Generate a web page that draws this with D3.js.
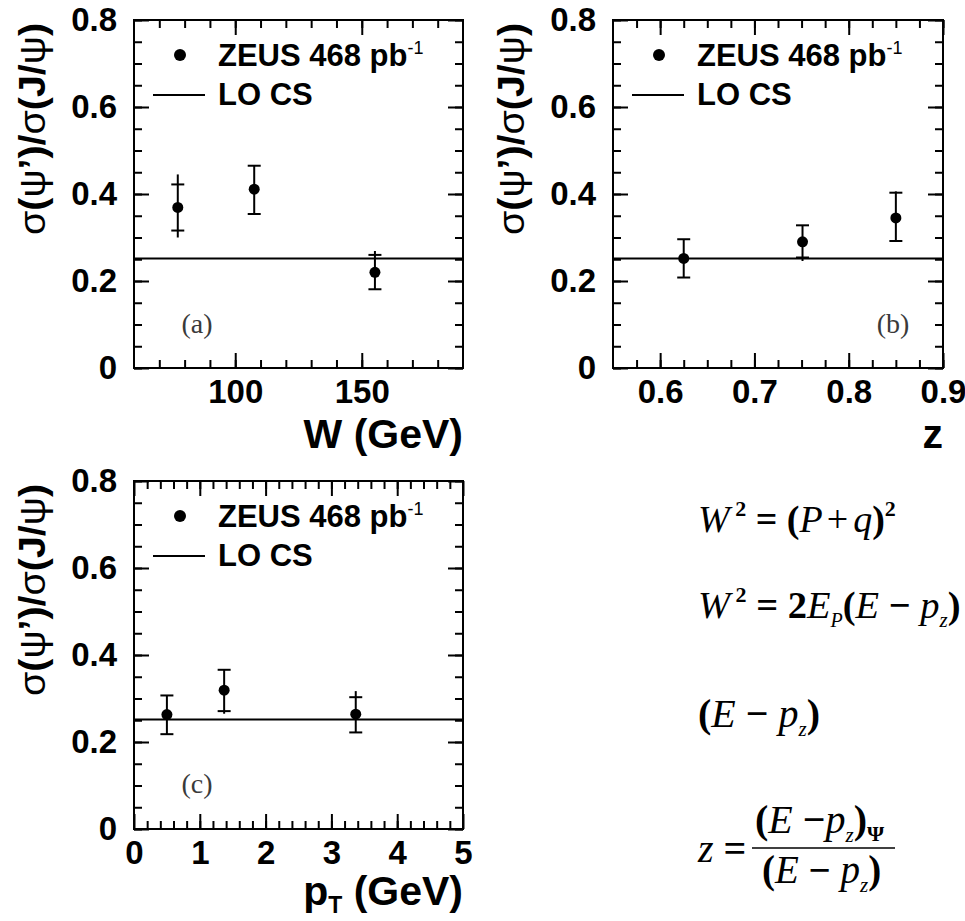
<!DOCTYPE html>
<html>
<head>
<meta charset="utf-8">
<script src="https://cdn.jsdelivr.net/npm/d3@7"></script>
<style>
  body { margin: 0; background: #fff; }
  text { fill: #000; }
</style>
</head>
<body>
<svg id="chart" width="965" height="921"></svg>
<script>
// ---- Data: ratio sigma(psi')/sigma(J/psi), ZEUS 468 pb^-1 ----
// (a) versus W (GeV)
const wBins    = [77.3, 107.5, 155.2];
const wRatio   = [0.369, 0.411, 0.220];
const wStatUp  = [0.422, 0.465, 0.260];
const wStatDn  = [0.316, 0.354, 0.181];
const wTotUp   = [0.445, 0.465, 0.269];
const wTotDn   = [0.300, 0.354, 0.181];

// (b) versus z
const zBins    = [0.625, 0.751, 0.850];
const zRatio   = [0.252, 0.290, 0.345];
const zStatUp  = [0.296, 0.328, 0.403];
const zStatDn  = [0.208, 0.254, 0.292];
const zTotUp   = [0.296, 0.328, 0.406];
const zTotDn   = [0.208, 0.246, 0.292];

// (c) versus pT (GeV)
const ptBins   = [0.50, 1.37, 3.37];
const ptRatio  = [0.263, 0.319, 0.264];
const ptStatUp = [0.307, 0.366, 0.303];
const ptStatDn = [0.218, 0.271, 0.222];
const ptTotUp  = [0.307, 0.366, 0.317];
const ptTotDn  = [0.218, 0.265, 0.222];

// Leading-order colour-singlet prediction (flat)
const loCS = 0.252;

// Axis ticks
const yMajor = [0, 0.2, 0.4, 0.6, 0.8];
const yMinor = d3.range(0, 0.8001, 0.05);
const yTickLabels = ["0", "0.2", "0.4", "0.6", "0.8"];
const wMajor = [100, 150];
const wMinor = d3.range(70, 190, 10);
const zMajor = [0.6, 0.7, 0.8, 0.9];
const zMinor = d3.range(0.575, 0.9, 0.025);
const ptMajor = [0, 1, 2, 3, 4, 5];
const ptMinor = d3.range(0.2, 5, 0.2);

const legendData = "ZEUS 468 pb";
const legendTheory = "LO CS";

const svg = d3.select("#chart");
const sans = "'Liberation Sans', Arial, Helvetica, sans-serif";
const serif = "'Liberation Serif', 'Times New Roman', serif";

function rows(x, v, su, sd, tu, td) {
  return x.map((d, i) => ({ x: d, v: v[i], su: su[i], sd: sd[i], tu: tu[i], td: td[i] }));
}

const panels = [
  { box: [134, 463, 20, 368], xDomain: [60, 190], xMajor: wMajor, xMinor: wMinor,
    xFmt: d => String(d), title: "W (GeV)", tag: "(a)", tagPos: [197, 323],
    data: rows(wBins, wRatio, wStatUp, wStatDn, wTotUp, wTotDn) },
  { box: [613, 943, 20, 368], xDomain: [0.55, 0.9], xMajor: zMajor, xMinor: zMinor,
    xFmt: d3.format(".1f"), title: "z", tag: "(b)", tagPos: [893, 323],
    data: rows(zBins, zRatio, zStatUp, zStatDn, zTotUp, zTotDn) },
  { box: [134, 463, 481, 829], xDomain: [0, 5], xMajor: ptMajor, xMinor: ptMinor,
    xFmt: d => String(d), title: "pT", tag: "(c)", tagPos: [197, 783],
    data: rows(ptBins, ptRatio, ptStatUp, ptStatDn, ptTotUp, ptTotDn) }
];

function styleAxis(g, labelled) {
  g.select(".domain").remove();
  g.selectAll(".tick line").attr("stroke", "#000").attr("stroke-width", 2);
  if (labelled) {
    g.selectAll(".tick text")
      .attr("fill", "#000")
      .style("font-family", sans)
      .style("font-weight", "bold")
      .style("font-size", "33px");
  }
}

function drawPanel(p) {
  const [x0, x1, y0, y1] = p.box;
  const x = d3.scaleLinear().domain(p.xDomain).range([x0, x1]);
  const y = d3.scaleLinear().domain([0, 0.8]).range([y1, y0]);
  const g = svg.append("g");

  // minor ticks on all four sides
  g.append("g").attr("transform", `translate(0,${y1})`)
    .call(d3.axisBottom(x).tickValues(p.xMinor).tickSize(-8).tickFormat("")).call(a => styleAxis(a, false));
  g.append("g").attr("transform", `translate(0,${y0})`)
    .call(d3.axisTop(x).tickValues(p.xMinor).tickSize(-8).tickFormat("")).call(a => styleAxis(a, false));
  g.append("g").attr("transform", `translate(${x0},0)`)
    .call(d3.axisLeft(y).tickValues(yMinor).tickSize(-8).tickFormat("")).call(a => styleAxis(a, false));
  g.append("g").attr("transform", `translate(${x1},0)`)
    .call(d3.axisRight(y).tickValues(yMinor).tickSize(-8).tickFormat("")).call(a => styleAxis(a, false));

  // major ticks with labels
  g.append("g").attr("transform", `translate(0,${y1})`)
    .call(d3.axisBottom(x).tickValues(p.xMajor).tickSize(-15).tickPadding(12).tickFormat(p.xFmt))
    .call(a => styleAxis(a, true));
  g.append("g").attr("transform", `translate(0,${y0})`)
    .call(d3.axisTop(x).tickValues(p.xMajor).tickSize(-15).tickFormat("")).call(a => styleAxis(a, false));
  g.append("g").attr("transform", `translate(${x0},0)`)
    .call(d3.axisLeft(y).tickValues(yMajor).tickSize(-15).tickPadding(17).tickFormat((d, i) => yTickLabels[i]))
    .call(a => styleAxis(a, true));
  g.append("g").attr("transform", `translate(${x1},0)`)
    .call(d3.axisRight(y).tickValues(yMajor).tickSize(-15).tickFormat("")).call(a => styleAxis(a, false));

  // frame
  g.append("rect").attr("x", x0).attr("y", y0).attr("width", x1 - x0).attr("height", y1 - y0)
    .attr("fill", "none").attr("stroke", "#000").attr("stroke-width", 2);

  // LO CS prediction
  g.append("line").attr("x1", x0).attr("x2", x1).attr("y1", y(loCS)).attr("y2", y(loCS))
    .attr("stroke", "#000").attr("stroke-width", 2);

  // data points with stat (capped) and total errors
  const pts = g.selectAll(".pt").data(p.data).enter().append("g");
  pts.append("line").attr("x1", d => x(d.x)).attr("x2", d => x(d.x))
    .attr("y1", d => y(d.tu)).attr("y2", d => y(d.td))
    .attr("stroke", "#000").attr("stroke-width", 2);
  ["su", "sd"].forEach(k => {
    pts.append("line").attr("x1", d => x(d.x) - 6.5).attr("x2", d => x(d.x) + 6.5)
      .attr("y1", d => y(d[k])).attr("y2", d => y(d[k]))
      .attr("stroke", "#000").attr("stroke-width", 2);
  });
  pts.append("circle").attr("cx", d => x(d.x)).attr("cy", d => y(d.v)).attr("r", 5.5).attr("fill", "#000");

  // legend
  const lg = g.append("g").style("font-family", sans).style("font-weight", "bold");
  lg.append("circle").attr("cx", x0 + 46).attr("cy", y0 + 35).attr("r", 6).attr("fill", "#000");
  const t1 = lg.append("text").attr("x", x0 + 84).attr("y", y0 + 46).style("font-size", "31px");
  t1.append("tspan").text(legendData);
  t1.append("tspan").attr("dy", -12).style("font-size", "18px").style("font-weight", "normal").text("-1");
  lg.append("line").attr("x1", x0 + 19).attr("x2", x0 + 71).attr("y1", y0 + 75).attr("y2", y0 + 75)
    .attr("stroke", "#000").attr("stroke-width", 2);
  lg.append("text").attr("x", x0 + 84).attr("y", y0 + 85).style("font-size", "31px").text(legendTheory);

  // panel tag
  g.append("text").attr("x", p.tagPos[0]).attr("y", p.tagPos[1]).attr("text-anchor", "middle")
    .attr("dominant-baseline", "central")
    .style("font-family", serif).style("font-size", "28px").style("fill", "#3a3a3a").text(p.tag);

  // x-axis title
  const isPt = p.title === "pT";
  const xt = g.append("text").attr("x", x1).attr("y", y1 + (isPt ? 76 : 80)).attr("text-anchor", "end")
    .style("font-family", sans).style("font-weight", "bold").style("font-size", "41px");
  if (isPt) {
    xt.append("tspan").text("p");
    xt.append("tspan").attr("dy", 8).style("font-size", "23px").text("T");
    xt.append("tspan").attr("dy", -8).style("white-space", "pre").text(" (GeV)");
  } else {
    xt.text(p.title);
  }

  // y-axis title
  const yt = g.append("text")
    .attr("transform", `translate(${x0 - 89},${y0 + 3}) rotate(-90)`)
    .attr("text-anchor", "end")
    .attr("textLength", 212).attr("lengthAdjust", "spacingAndGlyphs")
    .style("font-family", sans).style("font-size", "37px");
  const parts = [["σ", false], ["(", true], ["ψ", false], ["’)", true], ["/", true],
                 ["σ", false], ["(J/", true], ["ψ", false], [")", true]];
  parts.forEach(([s, b]) => yt.append("tspan").style("font-weight", b ? "bold" : "normal").text(s));
}

panels.forEach(drawPanel);

// ---- Kinematic definitions ----
function formula(x, yb, segs, size) {
  const t = svg.append("text").attr("x", x).attr("y", yb)
    .style("font-family", serif).style("font-size", size + "px").style("white-space", "pre");
  let shift = 0;
  segs.forEach(s => {
    const sh = s.shift || 0;
    const ts = t.append("tspan").text(s.t);
    if (sh !== shift) ts.attr("dy", sh - shift);
    if (s.dx) ts.attr("dx", s.dx);
    shift = sh;
    if (s.i) ts.style("font-style", "italic");
    if (s.b) ts.style("font-weight", "bold");
    if (s.size) ts.style("font-size", s.size + "px");
  });
  return t;
}
const sup2 = { t: " 2", b: true, size: 22, shift: -16 };
const sup2q = { t: "2", b: true, size: 22, shift: -16 };
const subP = { t: "P", i: true, size: 20, shift: 9 };
const subZ = { t: "z", i: true, size: 21, shift: 9 };
formula(698, 532, [
  { t: "W", i: true }, sup2, { t: " " }, { t: "=", b: true }, { t: " " }, { t: "(", b: true },
  { t: "P", i: true }, { t: "+", dx: 4 }, { t: "q", i: true, dx: 5 }, { t: ")", b: true }, sup2q
], 38);
formula(698, 618, [
  { t: "W", i: true }, sup2, { t: " " }, { t: "=", b: true }, { t: " " }, { t: "2", b: true },
  { t: "E", i: true }, subP, { t: "(", b: true }, { t: "E", i: true },
  { t: " − ", b: true }, { t: "p", i: true }, subZ, { t: ")", b: true }
], 38.5);
formula(698, 727, [
  { t: "(", b: true }, { t: "E", i: true }, { t: " − ", b: true }, { t: "p", i: true },
  subZ, { t: ")", b: true }
], 40);
formula(698, 862, [{ t: "z", i: true }, { t: " " }, { t: "=", b: true }], 40);
formula(755, 833, [
  { t: "(", b: true }, { t: "E", i: true }, { t: " −", b: true }, { t: "p", i: true },
  subZ, { t: ")", b: true }, { t: "Ψ", b: true, size: 22, shift: 8 }
], 40);
svg.append("line").attr("x1", 752).attr("x2", 895).attr("y1", 848).attr("y2", 848)
  .attr("stroke", "#000").attr("stroke-width", 1.5);
formula(762, 883, [
  { t: "(", b: true }, { t: "E", i: true }, { t: " − ", b: true }, { t: "p", i: true },
  subZ, { t: ")", b: true }
], 39);
</script>
</body>
</html>
